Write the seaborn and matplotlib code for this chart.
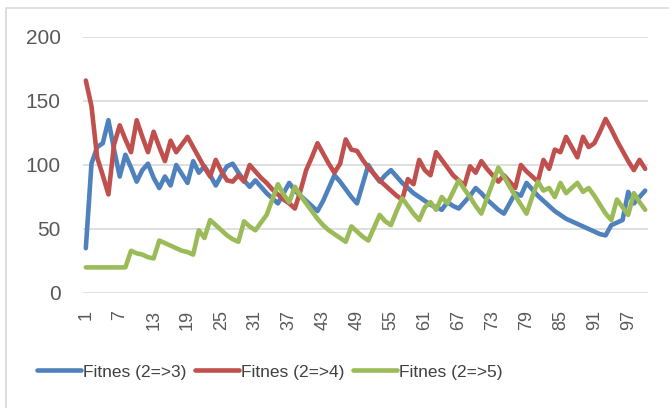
import pandas as pd
import numpy as np
import seaborn as sns
import matplotlib.pyplot as plt
from matplotlib.patches import Rectangle

# generations 1..100
generations = list(range(1, 101))

fitnes_2_3 = [35, 101, 114, 117, 135, 112, 91, 108, 98, 87,
              96, 101, 90, 82, 91, 84, 100, 93, 86, 103,
              94, 99, 92, 84, 92, 99, 101, 94, 88, 83,
              88, 83, 78, 74, 70, 78, 86, 80, 76, 72,
              68, 64, 72, 82, 92, 87, 81, 75, 70, 85,
              100, 93, 87, 92, 96, 91, 86, 82, 78, 75,
              72, 69, 67, 65, 71, 68, 66, 71, 76, 82,
              78, 73, 69, 65, 62, 70, 78, 76, 86, 81,
              76, 72, 68, 64, 61, 58, 56, 54, 52, 50,
              48, 46, 45, 53, 55, 57, 79, 70, 75, 80]

fitnes_2_4 = [166, 146, 106, 92, 77, 116, 131, 120, 110, 135,
              122, 110, 126, 114, 103, 119, 110, 116, 122, 114,
              106, 98, 91, 104, 95, 88, 87, 92, 87, 100,
              95, 90, 86, 81, 77, 73, 70, 66, 80, 96,
              106, 117, 109, 101, 94, 101, 120, 112, 111, 104,
              98, 93, 88, 84, 80, 76, 73, 89, 85, 104,
              96, 92, 110, 104, 98, 92, 88, 84, 99, 94,
              103, 97, 92, 87, 92, 87, 82, 100, 95, 91,
              87, 104, 97, 112, 110, 122, 114, 106, 122, 114,
              117, 126, 136, 128, 119, 111, 103, 96, 104, 97]

fitnes_2_5 = [20, 20, 20, 20, 20, 20, 20, 20, 33, 31,
              30, 28, 27, 41, 39, 37, 35, 33, 32, 30,
              49, 43, 57, 53, 49, 45, 42, 40, 56, 52,
              49, 55, 61, 73, 85, 77, 71, 83, 76, 70,
              64, 58, 53, 49, 46, 43, 40, 52, 48, 44,
              41, 51, 61, 56, 53, 64, 74, 68, 62, 57,
              67, 71, 65, 75, 70, 79, 88, 81, 75, 68,
              62, 74, 86, 98, 91, 83, 76, 69, 62, 75,
              87, 80, 82, 75, 86, 78, 82, 86, 79, 82,
              76, 69, 62, 57, 73, 67, 61, 78, 71, 65]

series_names = ['Fitnes (2=>3)', 'Fitnes (2=>4)', 'Fitnes (2=>5)']
colors = ['#4F81BD', '#C0504D', '#9BBB59']
x_ticks = list(range(1, 101, 6))
y_ticks = [0, 50, 100, 150, 200]

df = pd.DataFrame({'generation': generations * 3,
                   'fitnes': fitnes_2_3 + fitnes_2_4 + fitnes_2_5,
                   'series': [s for s in series_names for _ in generations]})

sns.set_style('white')
plt.rcParams['font.family'] = ['Liberation Sans', 'DejaVu Sans']

fig = plt.figure(figsize=(6.69, 4.08), dpi=100)
ax = fig.add_axes([83 / 669, 1 - 293 / 408, 565 / 669, 256 / 408])

sns.lineplot(ax=ax, data=df, x='generation', y='fitnes', hue='series',
             palette=colors, linewidth=3.3, legend=False)
for line in ax.lines:
    line.set_solid_joinstyle('round')
    line.set_solid_capstyle('round')

ax.set_xlim(0.5, 100.5)
ax.set_ylim(0, 200)
ax.set_xticks(x_ticks)
ax.set_xticklabels([str(t) for t in x_ticks], rotation=90, fontsize=13, color='#595959')
ax.set_yticks(y_ticks)
ax.set_yticklabels([str(t) for t in y_ticks], fontsize=15, color='#595959')
ax.tick_params(axis='x', length=0, pad=12)
ax.tick_params(axis='y', length=0, pad=16)
ax.set_xlabel('')
ax.set_ylabel('')
ax.yaxis.grid(True, color='#d9d9d9', linewidth=1.2)
ax.set_axisbelow(True)
for s in ax.spines.values():
    s.set_visible(False)

handles = [plt.Line2D([], [], color=c, linewidth=3.3, solid_capstyle='round') for c in colors]
fig.legend(handles, series_names, loc='center', bbox_to_anchor=(270 / 669, 1 - 372 / 408),
           ncol=3, frameon=False, fontsize=12.5, handlelength=2.5, handletextpad=0.15,
           columnspacing=0.5, labelcolor='#404040')

# chart area border
fig.patches.append(Rectangle((6 / 669, -0.05), 1.2, 1 - 8 / 408 + 0.05, transform=fig.transFigure,
                             fill=False, edgecolor='#d9d9d9', linewidth=1.2))

fig.savefig('out.png', dpi=100)
